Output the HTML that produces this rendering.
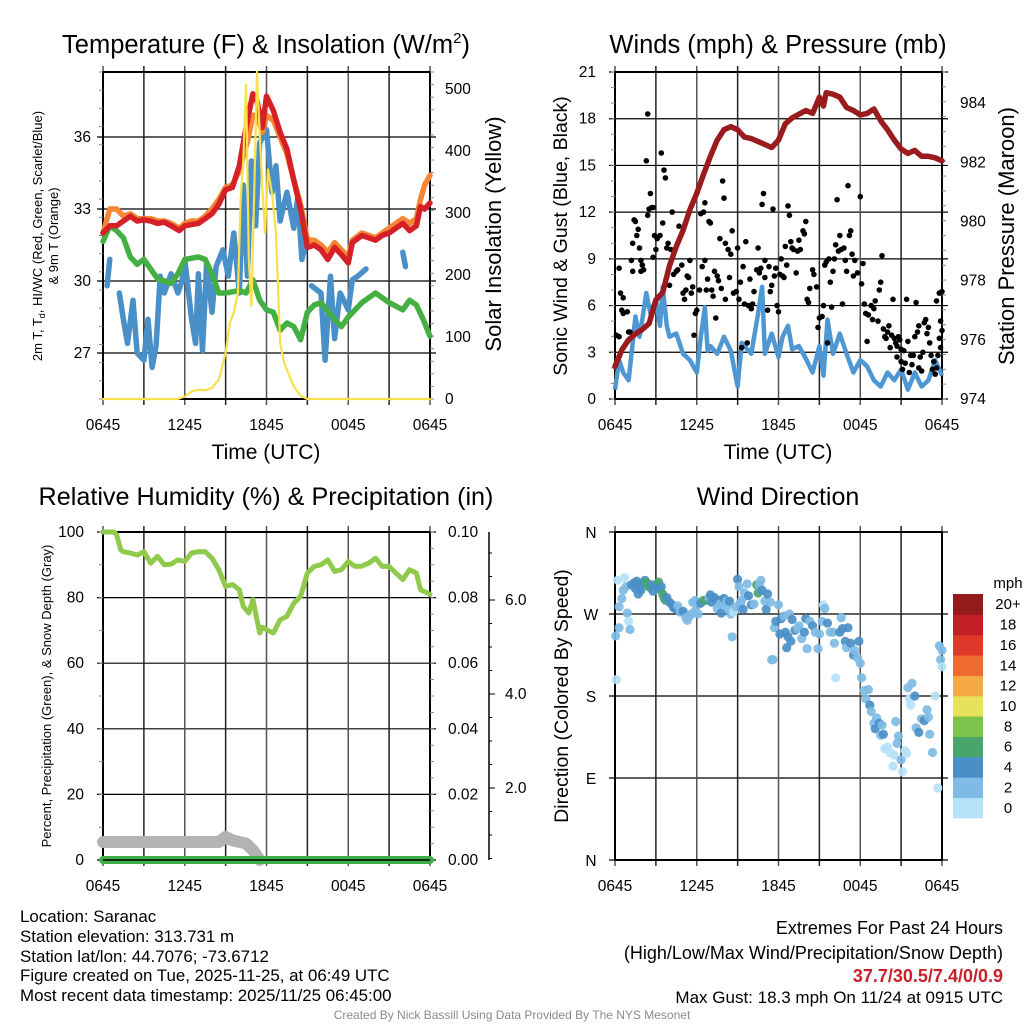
<!DOCTYPE html>
<html><head><meta charset="utf-8"><style>
html,body{margin:0;padding:0;background:#fff}
svg{display:block}
text{font-family:"Liberation Sans",sans-serif;fill:#000}
</style></head><body>
<svg id="fig" width="1024" height="1024" viewBox="0 0 1024 1024" xmlns="http://www.w3.org/2000/svg"></svg>
<script>
// ---------- Panel 1 data ----------
const tempHours=[0,0.5,1,1.5,2,2.5,3,3.5,4,4.5,5,5.6,6,6.5,7,7.5,8,8.5,9,9.5,10,10.3,10.6,11,11.3,11.7,12,12.5,13,13.5,14,14.5,15,15.5,16,16.5,17,17.5,18,18.3,19,19.5,20,20.5,21,21.5,22,22.5,23,23.3,23.6,24];
const tempRed=[32.0,32.3,32.3,32.5,32.7,32.5,32.55,32.5,32.4,32.45,32.3,32.1,32.3,32.35,32.4,32.6,32.8,33.2,33.8,33.9,34.8,35.75,36.7,37.8,37.5,36.4,37.7,37.1,36.2,35.5,34.2,33.0,31.4,31.5,31.3,30.9,31.4,31.1,30.75,31.6,31.9,31.8,31.7,31.9,32.0,32.2,32.4,32.1,32.3,33.1,33.0,33.25];
const tempOrange=[32.0,33.0,33.0,32.7,32.8,32.6,32.6,32.6,32.5,32.5,32.4,32.2,32.4,32.5,32.5,32.7,33.0,33.4,33.9,34.0,34.6,35.2,35.8,36.9,36.9,36.2,36.9,36.7,36.0,35.3,34.2,33.2,31.7,31.7,31.5,31.2,31.6,31.3,31.0,31.7,32.0,31.9,31.8,32.0,32.2,32.4,32.6,32.4,32.6,33.4,34.0,34.4];
const dewHours=[0,0.5,1,1.5,2,2.5,3,3.5,4,5,5.5,6,7,7.5,8,8.5,9,10,10.5,11,11.5,12,12.5,13,13.5,14,14.5,15,15.5,16,17,17.5,18,19,20,21,22,22.5,23,23.5,24];
const dewValues=[31.65,32.3,32.1,31.8,31.0,30.7,30.9,30.5,30.1,29.9,30.3,30.9,31.0,30.9,30.3,29.5,29.5,29.6,29.5,30.05,29.2,28.8,28.7,27.95,28.25,28.1,27.55,28.7,29.0,29.1,28.4,28.1,28.5,29.1,29.5,29.1,28.8,29.2,29.0,28.4,27.7];
const hiwcHours=[0.3,0.5,null,1.2,1.5,1.8,2.2,2.5,3,3.3,3.6,3.9,4.2,4.5,5,5.5,5.8,6,6.5,6.8,7,7.3,7.6,8,8.3,8.8,9.2,9.6,10,10.3,10.6,10.9,11.2,11.5,12,12.4,12.7,13,13.5,14,14.3,14.6,15,null,15.3,16,16.3,16.7,17,17.4,18,18.3,18.7,19.3,null,22,22.2];
const hiwcValues=[29.8,30.9,null,29.5,28.4,27.4,29.2,27.0,26.7,28.4,26.4,27.3,30.2,29.5,30.3,29.5,30.0,30.9,28.4,27.4,30.3,27.1,30.75,28.7,30.6,31.3,30.2,32.0,29.5,34.0,30.2,35.0,32.3,35.75,36.3,33.7,34.8,32.5,33.7,32.2,33.5,30.9,31.8,null,29.8,29.5,26.7,30.2,27.6,29.5,28.8,30.05,30.2,30.5,null,31.2,30.6];
const solarHours=[0,5.5,6,6.5,7,7.5,8,8.5,9,9.3,9.6,9.9,10.1,10.3,10.5,10.7,10.9,11.1,11.3,11.5,11.7,11.9,12.1,12.4,12.7,13,13.3,13.6,14,14.5,15,24];
const solarValues=[0,0,4,12,15,14,18,31,74,122,139,171,321,386,507,225,150,332,528,430,338,268,370,332,268,90,58,42,20,5,0,0];
const p1LeftTicks=[36,33,30,27];
const p1RightTicks=[0,100,200,300,400,500];
// ---------- Panel 2 data ----------
const presHours=[0,0.5,1,1.5,2,2.5,3,3.5,4,4.5,5,5.5,6,6.5,7,7.5,8,8.5,9,9.5,10,11,11.5,12,12.5,13,14,14.5,15,15.3,15.5,16,16.5,17,17.5,18,18.5,19,19.5,20,20.5,21,21.5,22,22.5,23,23.5,24];
const presValues=[975.1,975.66,976.0,976.2,976.35,976.55,977.35,977.6,978.5,979.15,979.7,980.4,980.95,981.6,982.2,982.75,983.1,983.2,983.1,982.85,982.8,982.6,982.5,982.75,983.3,983.5,983.75,983.65,984.2,983.9,984.35,984.3,984.2,983.85,983.75,983.6,983.65,983.8,983.4,983.1,982.75,982.45,982.3,982.4,982.2,982.2,982.15,982.05];
const windHours=[0,0.3,0.6,1,1.3,1.5,1.8,2,2.3,2.6,3,3.3,3.5,3.8,4,4.5,5,5.5,6,6.3,6.6,6.8,7,7.5,8,8.5,9,9.3,10,10.5,10.8,11,11.5,12,12.3,12.7,13,13.5,14,14.5,15,15.3,15.6,16,16.5,17,17.5,18,18.5,19,19.5,20,20.5,21,21.5,22,22.5,23,23.5,24];
const windValues=[0.6,2.5,1.7,1.2,3.6,5.3,4.0,5.1,6.8,5.5,6.4,4.7,7.2,4.7,4.0,4.2,2.9,2.5,1.7,4.0,5.9,3.1,3.4,2.9,4.0,3.1,0.8,3.6,2.9,5.5,7.2,2.9,4.2,2.7,4.0,4.7,3.2,3.4,2.6,1.7,3.4,1.5,5.1,2.9,4.2,2.9,1.7,2.5,2.1,1.2,0.8,1.7,1.2,1.9,0.6,1.7,0.8,1.2,2.5,1.5];
const gustHours=[0.1,0.3,0.3,0.4,0.6,0.5,0.6,0.9,1.0,1.1,1.2,1.3,1.3,1.4,1.5,1.6,1.7,1.8,1.9,1.9,2.0,2.1,2.3,2.4,2.4,2.5,2.6,2.7,2.8,2.9,2.8,3.0,3.1,3.3,3.4,3.5,3.6,3.7,3.8,3.9,4.0,4.1,4.2,4.3,4.5,4.6,4.7,4.9,5.0,5.1,5.2,5.3,5.4,5.5,5.6,5.7,5.8,5.9,6.0,6.2,6.3,6.4,6.5,6.6,6.6,6.7,6.8,6.9,7.0,7.1,7.2,7.3,7.4,7.5,7.6,7.7,7.8,7.9,8.0,8.1,8.1,8.3,8.4,8.5,8.6,8.7,8.9,9.0,9.1,9.2,9.3,9.4,9.5,9.6,9.7,9.8,9.9,10.0,10.1,10.2,10.4,10.5,10.6,10.7,10.8,10.9,11.0,11.0,11.2,11.3,11.4,11.5,11.6,11.7,11.8,11.9,12.0,12.1,12.2,12.3,12.4,12.5,12.6,12.7,12.8,12.9,13.0,13.1,13.3,13.4,13.5,13.6,13.8,13.9,14.0,14.1,14.2,14.3,14.5,14.6,14.8,14.9,15.0,15.2,15.3,15.4,15.5,15.6,15.7,15.8,15.9,16.0,16.1,16.2,16.3,16.4,16.5,16.6,16.7,16.8,16.9,17.0,17.1,17.2,17.3,17.4,17.5,17.6,17.8,18.0,18.1,18.2,18.3,18.4,18.5,18.6,18.8,18.9,19.0,19.1,19.3,19.4,19.5,19.6,19.7,19.8,19.9,20.0,20.1,20.2,20.3,20.4,20.5,20.6,20.7,20.8,20.9,21.0,21.1,21.2,21.3,21.4,21.5,21.6,21.7,21.8,21.9,22.0,22.1,22.2,22.3,22.4,22.5,22.6,22.7,22.8,22.9,23.0,23.1,23.2,23.3,23.4,23.5,23.6,23.7,23.8,23.9,24.0,23.6,23.8,24.0,23.9,21.0,20.7,22.3];
const gustMph=[4.1,4.0,8.4,6.8,6.5,5.7,5.5,5.6,4.3,4.3,8.9,8.2,10.0,11.5,11.4,10.5,10.9,9.7,8.2,8.9,8.6,8.3,15.3,11.8,18.3,12.2,13.2,12.3,12.3,10.5,9.1,9.6,10.3,10.5,15.8,11.3,14.7,14.2,9.7,10.0,7.3,9.6,12.0,8.0,8.2,8.3,11.1,8.6,6.8,6.4,7.0,7.9,7.8,8.9,6.8,7.2,4.1,5.5,5.7,7.0,11.9,8.5,12.0,12.6,8.9,7.0,7.7,11.4,11.3,7.0,6.6,8.2,5.2,7.9,7.6,10.3,7.1,14.0,12.9,10.0,6.4,9.6,7.8,9.3,10.8,6.8,6.9,9.7,6.4,7.5,3.3,8.5,6.1,10.1,3.6,6.0,7.7,5.8,6.1,6.9,8.3,9.7,8.1,8.4,12.5,13.2,8.9,7.8,5.7,8.5,6.9,7.3,12.2,7.9,8.4,6.0,5.6,8.0,9.0,7.9,7.8,9.8,8.6,12.4,11.8,10.1,9.7,9.6,8.1,9.5,10.2,9.6,10.8,10.6,11.4,6.4,6.2,7.1,8.3,8.0,7.2,4.6,5.2,5.3,6.0,8.6,8.8,3.6,9.0,7.5,5.9,8.2,9.0,9.9,12.8,9.5,10.5,9.6,6.1,9.7,8.9,8.2,13.7,10.5,10.8,9.3,7.9,8.9,8.1,13.0,7.4,8.7,6.1,5.5,3.7,5.4,6.0,5.1,5.8,6.3,5.0,7.0,7.5,9.2,4.5,4.0,3.9,4.3,4.7,3.3,4.1,6.4,3.9,3.6,3.4,4.0,3.8,2.4,1.9,3.1,2.3,6.4,3.7,1.7,2.8,2.2,2.8,4.0,6.2,4.3,4.7,2.7,1.8,3.0,4.9,5.1,4.2,4.6,3.6,2.8,1.9,2.4,1.6,2.0,2.8,3.9,5.0,4.4,6.3,6.8,6.9,3.3,3.2,2.7,2.0];
const p2LeftTicks=[0,3,6,9,12,15,18,21];
const p2RightTicks=[974,976,978,980,982,984];
// ---------- Panel 3 data ----------
const rhHours=[0,0.8,1,1.3,1.5,2,2.5,3,3.5,4,4.5,5,5.5,6,6.5,7,7.5,8,8.5,9,9.5,10,10.3,10.7,11,11.3,11.5,11.7,12,12.5,13,13.5,14,14.5,15,15.5,16,16.5,17,17.5,18,18.5,19,19.5,20,20.5,21,21.5,22,22.5,23,23.3,24];
const rhValues=[100,100,99.2,94.6,94,93.6,93,94,90.5,92.6,90,90.2,91.5,91,93.6,94,94,92,88.5,83.4,84,82.4,77.3,75.3,79.4,73.2,69.2,71,70.2,69.2,73.2,74.3,78.3,80.4,87.5,89.5,90,91.5,88,88.5,91,89.5,89.6,90.5,92,89.5,89.5,87.5,85.5,88.5,87.5,82.4,81];
const snowHours=[0,8.5,9,9.5,10.5,11,11.5];
const snowValues=[5.5,5.5,7,6,5,3,0];
const precipHours=[0,24];
const precipValues=[0,0];
const p3LeftTicks=[0,20,40,60,80,100];
const p3RightTicks=["0.00","0.02","0.04","0.06","0.08","0.10"];
const snowTicks=["2.0","4.0","6.0"];
// ---------- Panel 4 data ----------
const dirHours=[0.05,0.1,0.2,0.3,0.3,0.5,0.6,0.7,0.8,0.9, 1.0,1.1,1.2,1.4,1.5,1.6,1.7,1.8,1.9,2.0, 2.2,2.3,2.4,2.5,2.6,2.7,2.8,3.0,3.2,3.3, 3.4,3.5,3.6,3.7,3.8,4.0,4.2,4.3,4.5,4.6, 4.8,5.0,5.2,5.3,5.5,5.6,5.7,5.8,5.9,6.0, 6.1,6.3,6.5,6.7,6.9,7.0,7.1,7.3,7.5,7.6, 7.7,7.8,7.9,8.0,8.2,8.3,8.4,8.5,8.6,8.7, 8.9,9.0,9.1,9.2,9.3,9.4,9.5,9.7,9.8,10.0, 10.2,10.4,10.5,10.6,10.7,10.8,11.0,11.1,11.2,11.4, 11.5,11.6,11.7,11.8,12.0,12.1,12.2,12.4,12.5,12.6, 12.7,12.8,12.9,13.0,13.2,13.4,13.5,13.7,13.9,14.0, 14.1,14.3,14.5,14.7,14.9,15.0,15.2,15.3,15.4,15.6, 15.8,16.0,16.1,16.2,16.5,16.6,16.7,16.9,17.0,17.1, 17.3,17.5,17.6,17.8,17.9,18.0,18.1,18.3,18.4,18.6, 18.7,18.8,19.0,19.1,19.2,19.4,19.5,19.6,19.7,19.8, 20.0,20.2,20.4,20.5,20.6,20.7,20.8,21.0,21.1,21.3, 21.4,21.5,21.6,21.7,21.8,22.0,22.1,22.3,22.5,22.7, 22.9,23.0,23.1,23.3,23.5,23.7,23.8,23.9,24.0,24.0];
const dirDegrees=[246,198,307,255,278,287,296,310,300,271, 262,253,302,304,298,306,292,300,296,303, 307,305,303,300,299,302,295,302,305,297, 300,292,288,285,288,283,280,277,275,279, 272,273,266,263,268,270,283,272,285,279, 270,282,285,285,288,291,283,288,276,285, 281,271,280,287,284,276,284,270,245,272, 278,308,300,282,285,275,293,303,290,280, 281,302,293,302,307,296,284,275,292,283, 220,220,255,262,280,248,265,268,250,233, 245,270,240,264,252,254,257,243,250,265, 232,262,257,250,232,248,262,280,276,260, 250,250,238,200,250,266,254,240,233,255, 238,225,230,222,240,216,200,186,177,187, 170,163,150,144,156,150,137,148,138,122, 124,118,103,115,152,128,136,110,97,120, 117,189,177,170,194,180,145,140,155,153, 165,157,138,118,180,79,235,220,230,212];
const dirSpeeds=[3,1,1,3,3,3,3,1,3,3, 1,3,5,5,5,5,5,5,5,5, 5,7,7,7,7,5,5,5,7,5, 5,7,7,7,5,5,5,5,5,3, 3,5,3,3,3,3,3,3,3,3, 3,5,7,7,3,5,5,5,3,5, 3,5,3,5,3,3,5,3,3,1, 3,5,3,3,3,5,3,3,5,5, 3,7,7,3,3,5,3,5,5,3, 3,3,3,5,3,5,5,3,5,5, 5,3,5,5,5,3,3,3,5,5, 3,3,5,3,3,3,3,1,3,5, 3,3,3,1,5,3,5,5,3,5, 5,5,3,3,5,3,3,3,3,3, 5,3,3,5,3,5,3,3,5,1, 1,1,1,1,3,3,3,3,1,1, 1,3,1,1,3,5,3,5,3,5, 3,3,3,3,1,1,3,3,3,1];
const timeTickLabels=["0645","","1245","","1845","","0045","","0645"];
const dirTickLabels=["N","E","S","W","N"];
const speedBinLabels=["0","2","4","6","8","10","12","14","16","18","20+"];
const speedBinColors=["#b5e2f8","#7fbbe4","#4a8fc7","#48a66c","#7dc24b","#e8e25a","#f5aa45","#ef6a2e","#df3729","#c21f26","#941a1c"];

const NS="http://www.w3.org/2000/svg";
const svg=document.getElementById('fig');
function mk(tag,attrs,parent){const e=document.createElementNS(NS,tag);for(const k in attrs)e.setAttribute(k,attrs[k]);(parent||svg).appendChild(e);return e;}
function txt(s,attrs,parent){const e=mk('text',attrs,parent);e.textContent=s;return e;}
function lin(a,b,c,d){return function(v){return c+(v-a)*(d-c)/(b-a);};}
function lineThrough(xs,ys,sx,sy){let d='';let pen=false;for(let i=0;i<xs.length;i++){if(xs[i]===null||ys[i]===null){pen=false;continue;}d+=(pen?'L':'M')+sx(xs[i]).toFixed(1)+','+sy(ys[i]).toFixed(1);pen=true;}return d;}

function frame(g,X0,X1,Y0,Y1,hLines){
  hLines.forEach(function(y){mk('line',{x1:X0-6,x2:X1+6,y1:y,y2:y,stroke:'#000','stroke-width':1.2},g);});
  for(let i=0;i<=8;i++){const x=X0+i*(X1-X0)/8;mk('line',{x1:x,x2:x,y1:Y0-6,y2:Y1+6,stroke:(i%2?'#222':'#555'),'stroke-width':1.5},g);}
  mk('rect',{x:X0,y:Y0,width:X1-X0,height:Y1-Y0,fill:'none',stroke:'#000','stroke-width':2},g);
}
function timeLabels(g,X0,X1,y){
  for(let i=0;i<timeTickLabels.length;i++){if(!timeTickLabels[i])continue;const t=txt(timeTickLabels[i],{x:X0+i*(X1-X0)/8,y:y,'font-size':15.5,'text-anchor':'middle'},g);}
}
function minorTicks(g,x,Y0,Y1,n,dir){for(let i=0;i<=n;i++){const y=Y0+i*(Y1-Y0)/n;mk('line',{x1:x,x2:x+dir*4,y1:y,y2:y,stroke:'#888','stroke-width':1},g);}}

// ================= PANEL 1 =================
(function(){
const g=mk('g',{});


const X0=103,X1=430,Y0=72,Y1=399;
const sx=lin(0,24,X0,X1);
const sy=lin(25.083,38.708,Y1,Y0);
const sr=lin(0,527.4,Y1,Y0);
frame(g,X0,X1,Y0,Y1,p1LeftTicks.map(sy));
minorTicks(g,X0,Y0,Y1,18,-1);minorTicks(g,X1,Y0,Y1,26,1);
const lines=[[hiwcHours,hiwcValues,'#4a90c8',5.5,'hi-wc-line',sy],[dewHours,dewValues,'#44b043',5.5,'dewpoint-line',sy],[tempHours,tempOrange,'#f58634',5.5,'temp-9m-line',sy],[tempHours,tempRed,'#d62027',5.5,'temp-2m-line',sy],[solarHours,solarValues,'#f9e04b',2.2,'solar-line',sr]];
lines.forEach(function(L){const p=mk('path',{d:lineThrough(L[0],L[1],sx,L[5]),fill:'none',stroke:L[2],'stroke-width':L[3],'stroke-linejoin':'round','stroke-linecap':'round'},g);});
p1LeftTicks.forEach(function(v){const t=txt(String(v),{x:X0-12,y:sy(v)+5,'font-size':15.5,'text-anchor':'end'},g);});
p1RightTicks.forEach(function(v){const t=txt(String(v),{x:X1+15,y:sr(v)+5,'font-size':15.5},g);});
timeLabels(g,X0,X1,430);
const ti=txt('',{x:266,y:53,'font-size':25.5,'text-anchor':'middle'},g);
ti.innerHTML='Temperature (F) &amp; Insolation (W/m<tspan dy="-10" font-size="15">2</tspan><tspan dy="10">)</tspan>';

const xt=txt('Time (UTC)',{x:266,y:459,'font-size':21,'text-anchor':'middle'},g);

const yt=mk('text',{transform:'translate(42,236) rotate(-90)','font-size':13,'text-anchor':'middle'},g);
yt.innerHTML='2m T, T<tspan dy="3" font-size="9">d</tspan><tspan dy="-3">, HI/WC (Red, Green, Scarlet/Blue)</tspan>';

const yt2=txt('& 9m T (Orange)',{transform:'translate(58,236) rotate(-90)','font-size':13,'text-anchor':'middle'},g);

const rt=txt('Solar Insolation (Yellow)',{transform:'translate(501,234) rotate(-90)','font-size':22,'text-anchor':'middle'},g);

})();

// ================= PANEL 2 =================
(function(){
const g=mk('g',{});


const X0=615,X1=942,Y0=72,Y1=399;
const sx=lin(0,24,X0,X1);
const sy=lin(0,21,Y1,Y0);
const sp=lin(974,985.05,Y1,Y0);
frame(g,X0,X1,Y0,Y1,p2LeftTicks.map(sy));
minorTicks(g,X0,Y0,Y1,21,-1);minorTicks(g,X1,Y0,Y1,22,1);
const wp=mk('path',{d:lineThrough(windHours,windValues,sx,sy),fill:'none',stroke:'#4f97d3','stroke-width':4.5,'stroke-linejoin':'round'},g);

for(let i=0;i<gustHours.length;i++){const c=mk('circle',{cx:sx(gustHours[i]).toFixed(1),cy:sy(gustMph[i]).toFixed(1),r:2.8,fill:'#000'},g);

}
const pp=mk('path',{d:lineThrough(presHours,presValues,sx,sp),fill:'none',stroke:'#9a1b1e','stroke-width':5.5,'stroke-linejoin':'round','stroke-linecap':'round'},g);

p2LeftTicks.forEach(function(v){const t=txt(String(v),{x:X0-19,y:sy(v)+5,'font-size':15.5,'text-anchor':'end'},g);});
p2RightTicks.forEach(function(v){const t=txt(String(v),{x:X1+18,y:sp(v)+5,'font-size':15.5},g);});
timeLabels(g,X0,X1,430);
const ti=txt('Winds (mph) & Pressure (mb)',{x:778,y:53,'font-size':25.5,'text-anchor':'middle'},g);

const xt=txt('Time (UTC)',{x:778,y:459,'font-size':21,'text-anchor':'middle'},g);

const yt=txt('Sonic Wind & Gust (Blue, Black)',{transform:'translate(567,236) rotate(-90)','font-size':19.5,'text-anchor':'middle'},g);

const rt=txt('Station Pressure (Maroon)',{transform:'translate(1014,236) rotate(-90)','font-size':22,'text-anchor':'middle'},g);

})();

// ================= PANEL 3 =================
(function(){
const g=mk('g',{});


const X0=103,X1=430,Y0=532,Y1=860;
const sx=lin(0,24,X0,X1);
const sy=lin(0,100,Y1,Y0);
frame(g,X0,X1,Y0,Y1,p3LeftTicks.map(sy));
minorTicks(g,X0,Y0,Y1,10,-1);minorTicks(g,X1,Y0,Y1,20,1);
const sn=mk('path',{d:lineThrough(snowHours,snowValues,sx,sy),fill:'none',stroke:'#b3b3b3','stroke-width':12,'stroke-linejoin':'round','stroke-linecap':'round'},g);

const pr=mk('path',{d:lineThrough(precipHours,precipValues,sx,sy),fill:'none',stroke:'#3fae49','stroke-width':8,'stroke-linecap':'round'},g);

mk('line',{x1:X0,x2:X1,y1:Y1,y2:Y1,stroke:'#000','stroke-width':1.5},g);
const rh=mk('path',{d:lineThrough(rhHours,rhValues,sx,sy),fill:'none',stroke:'#8fca4c','stroke-width':5,'stroke-linejoin':'round','stroke-linecap':'round'},g);

p3LeftTicks.forEach(function(v){const t=txt(String(v),{x:X0-19,y:sy(v)+5,'font-size':15.5,'text-anchor':'end'},g);});
p3RightTicks.forEach(function(v,i){const t=txt(v,{x:X1+18,y:sy(i*20)+5,'font-size':15.5},g);});
const sa=mk('line',{x1:489,x2:489,y1:Y0,y2:Y1,stroke:'#000','stroke-width':1.5},g);

const ssy=lin(0,2,882,788);
for(let i=0;i<=7;i++){const y=ssy(i);if(y<Y0||y>Y1)continue;mk('line',{x1:489,x2:489+(i%2===0?6:3),y1:y,y2:y,stroke:'#000','stroke-width':1},g);}
for(let i=0;i<=14;i++){const y=ssy(i*0.5);if(y<Y0||y>Y1)continue;mk('line',{x1:489,x2:492,y1:y,y2:y,stroke:'#000','stroke-width':1},g);}
snowTicks.forEach(function(v){const t=txt(v,{x:505,y:ssy(parseFloat(v))+5,'font-size':15.5},g);});
timeLabels(g,X0,X1,891);
const ti=txt('Relative Humidity (%) & Precipitation (in)',{x:266,y:505,'font-size':25.2,'text-anchor':'middle'},g);

const yt=txt('Percent, Precipitation (Green), & Snow Depth (Gray)',{transform:'translate(51,696) rotate(-90)','font-size':13,'text-anchor':'middle'},g);

})();

// ================= PANEL 4 =================
(function(){
const g=mk('g',{});


const X0=615,X1=942,Y0=532,Y1=860;
const sx=lin(0,24,X0,X1);
const sy=lin(0,360,Y1,Y0);
frame(g,X0,X1,Y0,Y1,[0,90,180,270,360].map(sy));
function colorFor(s){let b=Math.floor((s||0)/2);if(b>10)b=10;if(b<0)b=0;return speedBinColors[b];}
for(let i=0;i<dirHours.length;i++){const c=mk('circle',{cx:sx(dirHours[i]).toFixed(1),cy:sy(dirDegrees[i]).toFixed(1),r:4.6,fill:colorFor(dirSpeeds[i]),'fill-opacity':0.92},g);

}
dirTickLabels.forEach(function(v,i){const t=txt(v,{x:591,y:sy(i*90)+6,'font-size':15.5,'text-anchor':'middle'},g);});
timeLabels(g,X0,X1,891);
const ti=txt('Wind Direction',{x:778,y:505,'font-size':25,'text-anchor':'middle'},g);

const yt=txt('Direction (Colored By Speed)',{transform:'translate(568,696) rotate(-90)','font-size':19.5,'text-anchor':'middle'},g);

const lg=mk('g',{},g);


const bh=(818-594)/11;
for(let i=0;i<11;i++){const y=818-(i+1)*bh;const r=mk('rect',{x:953,y:y.toFixed(1),width:30,height:(bh+0.4).toFixed(1),fill:speedBinColors[i]},lg);


const t=txt(speedBinLabels[i],{x:1008,y:(y+bh/2+5).toFixed(1),'font-size':15,'text-anchor':'middle'},lg);

}
const mt=txt('mph',{x:1008,y:588,'font-size':15,'text-anchor':'middle'},lg);

})();

// ================= FOOTER =================
(function(){
const g=mk('g',{});


const left=["Location: Saranac","Station elevation: 313.731 m","Station lat/lon: 44.7076; -73.6712","Figure created on Tue, 2025-11-25, at 06:49 UTC","Most recent data timestamp: 2025/11/25 06:45:00"];
const ly=[922,942,962,981,1001];
left.forEach(function(s,i){const t=txt(s,{x:20,y:ly[i],'font-size':16.9},g);});
const r1=txt('Extremes For Past 24 Hours',{x:1003,y:934,'font-size':18,'text-anchor':'end'},g);

const r2=txt('(High/Low/Max Wind/Precipitation/Snow Depth)',{x:1003,y:959,'font-size':18,'text-anchor':'end'},g);

const r3=txt('37.7/30.5/7.4/0/0.9',{x:1003,y:982,'font-size':18,'font-weight':'bold','text-anchor':'end',style:'fill:#c9202a'},g);

const r4=txt('Max Gust: 18.3 mph On 11/24 at 0915 UTC',{x:1003,y:1003,'font-size':17,'text-anchor':'end'},g);

const cr=txt('Created By Nick Bassill Using Data Provided By The NYS Mesonet',{x:512,y:1019,'font-size':12,'text-anchor':'middle',style:'fill:#8a8a8a'},g);

})();
</script>
</body></html>
